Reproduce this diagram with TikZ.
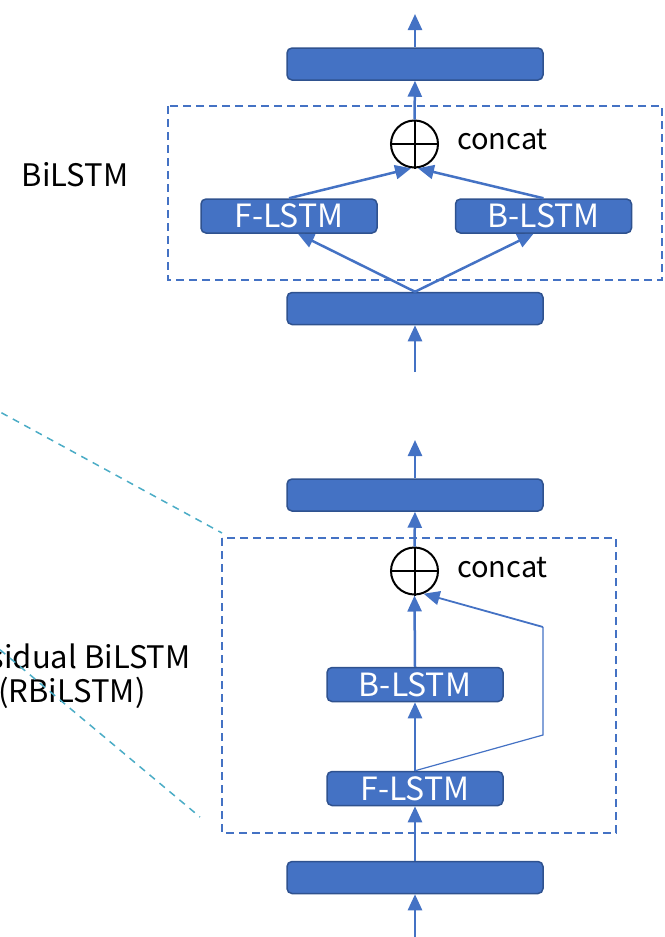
\documentclass[tikz,border=0pt]{standalone}
\usepackage{fontspec}
\setmainfont{Noto Sans CJK JP}
\usetikzlibrary{arrows.meta}
\definecolor{boxblue}{HTML}{4472C4}
\definecolor{boxedge}{HTML}{2F528F}
\definecolor{guide}{HTML}{4BACC6}
\tikzset{
  bar/.style={draw=boxedge, fill=boxblue, line width=1.5pt, rounded corners=5pt,
    minimum width=256pt, minimum height=32pt, inner sep=0pt},
  lstm/.style={draw=boxedge, fill=boxblue, line width=1.5pt, rounded corners=5pt,
    minimum width=176pt, minimum height=34pt, inner sep=0pt, text=white,
    font=\fontsize{32pt}{34pt}\selectfont},
  plusnode/.style={circle, draw=black, line width=2pt, minimum size=47pt, inner sep=0pt},
  arr/.style={draw=boxblue, line width=2.5pt, -{Triangle[length=16pt,width=14pt]}},
  skip/.style={draw=boxblue, line width=1.2pt},
  group/.style={draw=boxblue, line width=2pt, dash pattern=on 8pt off 5pt},
  zoomline/.style={draw=guide, line width=1.5pt, dash pattern=on 7pt off 6pt},
  lbl/.style={font=\fontsize{31pt}{34pt}\selectfont, align=center, inner sep=0pt},
  catlbl/.style={font=\fontsize{29pt}{32pt}\selectfont, inner sep=0pt, anchor=west}
}
\begin{document}
\begin{tikzpicture}[x=1pt,y=-1pt]
\useasboundingbox (0,0) rectangle (664,937);

% ---------- plain BiLSTM ----------
\draw[group] (168,106) rectangle (662,280);
\node[lbl] (lab1) at (75,175) {BiLSTM};
\node[bar] (out1) at (415,64) {};
\node[bar] (in1) at (415,308.5) {};
\node[plusnode] (cat1) at (414.5,144) {};
\draw[line width=2pt] (cat1.north) -- (cat1.south) (cat1.west) -- (cat1.east);
\node[catlbl] (ct1) at (457,140) {concat};
\node[lstm] (fw1) at (289,216) {F-LSTM};
\node[lstm] (bw1) at (543.5,216) {B-LSTM};
\coordinate (top1) at (415,14);
\coordinate (src1) at (415,372);

\draw[arr] (out1.north) -- (top1);
\draw[arr] (cat1.north) -- (out1.south);
\draw[arr] (fw1.north) -- (cat1.262);
\draw[arr] (bw1.north) -- (cat1.278);
\draw[arr] (in1.north) -- ([xshift=9pt]fw1.south);
\draw[arr] (in1.north) -- ([xshift=-10pt]bw1.south);
\draw[arr] (src1) -- (in1.south);

% ---------- residual BiLSTM ----------
\coordinate (gTL) at (222,538);
\coordinate (gBR) at (616,833);
\draw[group] (gTL) rectangle (gBR);
\node[lbl] (lab2) at (72,676) {Residual BiLSTM\\(RBiLSTM)};
\node[bar] (out2) at (415,495) {};
\node[bar] (in2) at (415,877.5) {};
\node[plusnode] (cat2) at (414.5,571) {};
\draw[line width=2pt] (cat2.north) -- (cat2.south) (cat2.west) -- (cat2.east);
\node[catlbl] (ct2) at (457,568) {concat};
\node[lstm] (bw2) at (415,684.5) {B-LSTM};
\node[lstm] (fw2) at (415,788.5) {F-LSTM};
\coordinate (top2) at (415,440);
\coordinate (src2) at (415,937);
\coordinate (sk1) at (543,735);
\coordinate (sk2) at (543,627);

\draw[arr] (out2.north) -- (top2);
\draw[arr] (cat2.north) -- (out2.south);
\draw[arr] (bw2.north) -- (cat2.south);
\draw[arr] (fw2.north) -- (bw2.south);
\draw[skip] (fw2.north) -- (sk1) -- (sk2);
\draw[arr, line width=1.8pt] (sk2) -- (cat2.292);
\draw[arr] (in2.north) -- (fw2.south);
\draw[arr] (src2) -- (in2.south);

% ---------- zoom guide lines ----------
\coordinate (zA) at (-10,406.5);
\coordinate (zB) at (222,533);
\coordinate (zC) at (-20,633);
\coordinate (zD) at (200,817);
\draw[zoomline] (zA) -- (zB);
\draw[zoomline] (zC) -- (zD);
\end{tikzpicture}
\end{document}
